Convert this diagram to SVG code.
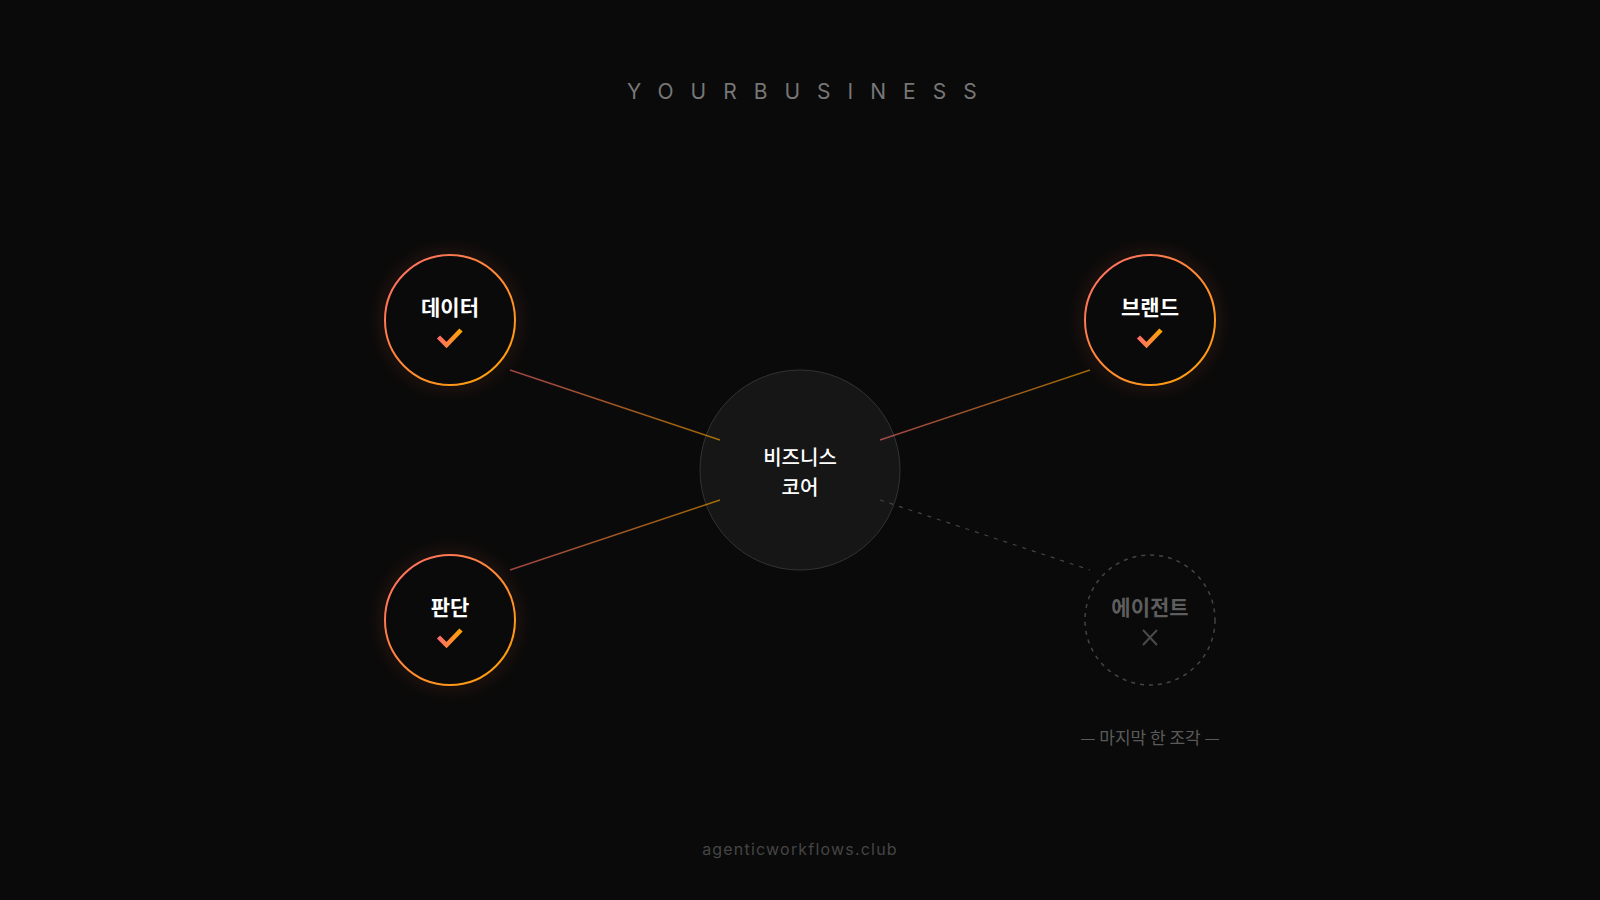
<svg xmlns="http://www.w3.org/2000/svg" width="1600" height="900" viewBox="0 0 1600 900">
  <defs>
    <linearGradient id="ringGrad" x1="0" y1="0" x2="1" y2="1">
      <stop offset="0" stop-color="#ff6b6b"/>
      <stop offset="1" stop-color="#ffa500"/>
    </linearGradient>
    <linearGradient id="lineGrad" x1="0" y1="0" x2="1" y2="0">
      <stop offset="0" stop-color="#ff6b6b"/>
      <stop offset="1" stop-color="#ffa500"/>
    </linearGradient>
    <linearGradient id="checkGrad" x1="0" y1="0" x2="1" y2="0">
      <stop offset="0" stop-color="#ff6b6b"/>
      <stop offset="1" stop-color="#ffa500"/>
    </linearGradient>
    <filter id="glow" x="-50%" y="-50%" width="200%" height="200%">
      <feGaussianBlur stdDeviation="8"/>
    </filter>
    <style>
      .title { font-family: Inter, "Liberation Sans", sans-serif; font-size: 21px; fill: #777777; letter-spacing: 17px; }
      .label { font-family: "Noto Sans CJK KR", "Noto Sans", sans-serif; font-size: 21px; font-weight: 700; fill: #ffffff; text-anchor: middle; }
      .core { font-family: "Noto Sans CJK KR", "Noto Sans", sans-serif; font-size: 20px; font-weight: 500; fill: #ffffff; text-anchor: middle; }
      .muted { fill: #5e5e5e; }
      .ring { fill: #0a0a0a; stroke: url(#ringGrad); stroke-width: 2; }
      .halo { fill: none; stroke: #ff6f40; stroke-width: 6; opacity: 0.2; filter: url(#glow); }
      .check { fill: none; stroke: url(#checkGrad); stroke-width: 4.5; stroke-linecap: butt; stroke-linejoin: miter; }
      .link { stroke: url(#lineGrad); stroke-width: 1.5; opacity: 0.6; fill: none; }
      .dashed { stroke: #444444; stroke-width: 1.2; stroke-dasharray: 4 6; fill: none; }
      .caption { font-family: "Noto Sans CJK KR", "Noto Sans", sans-serif; font-size: 17px; fill: #5a5a5a; text-anchor: middle; }
      .footer { font-family: Inter, "Liberation Sans", sans-serif; font-size: 16px; fill: #454545; letter-spacing: 1.2px; text-anchor: middle; }
    </style>
  </defs>

  <rect width="1600" height="900" fill="#0a0a0a"/>

  <text class="title" x="627" y="99">YOURBUSINESS</text>

  <g id="core">
    <circle cx="800" cy="470" r="100" fill="#161616" stroke="#333333" stroke-width="1"/>
    <text class="core" x="800" y="465">비즈니스</text>
    <text class="core" x="800" y="495">코어</text>
  </g>

  <g id="connectors">
    <line class="link" x1="510" y1="370" x2="720" y2="440"/>
    <line class="link" x1="510" y1="570" x2="720" y2="500"/>
    <line class="link" x1="880" y1="440" x2="1090" y2="370"/>
    <line class="dashed" x1="880" y1="500" x2="1090" y2="570"/>
  </g>

  <g id="node-data">
    <circle class="halo" cx="450" cy="320" r="65"/>
    <circle class="ring" cx="450" cy="320" r="65"/>
    <text class="label" x="450" y="315">데이터</text>
    <polyline class="check" points="438.5,337 446.5,345 461,330"/>
  </g>

  <g id="node-brand">
    <circle class="halo" cx="1150" cy="320" r="65"/>
    <circle class="ring" cx="1150" cy="320" r="65"/>
    <text class="label" x="1150" y="315">브랜드</text>
    <polyline class="check" points="1138.5,337 1146.5,345 1161,330"/>
  </g>

  <g id="node-judgment">
    <circle class="halo" cx="450" cy="620" r="65"/>
    <circle class="ring" cx="450" cy="620" r="65"/>
    <text class="label" x="450" y="615">판단</text>
    <polyline class="check" points="438.5,637 446.5,645 461,630"/>
  </g>

  <g id="node-agent">
    <circle cx="1150" cy="620" r="65" fill="none" stroke="#444444" stroke-width="1.5" stroke-dasharray="4 5"/>
    <text class="label muted" x="1150" y="615">에이전트</text>
    <path d="M1143 630 L1157 645 M1157 630 L1143 645" stroke="#4a4a4a" stroke-width="2" fill="none"/>
    <text class="caption" x="1150" y="744">— 마지막 한 조각 —</text>
  </g>

  <text class="footer" x="800" y="855">agenticworkflows.club</text>
</svg>
